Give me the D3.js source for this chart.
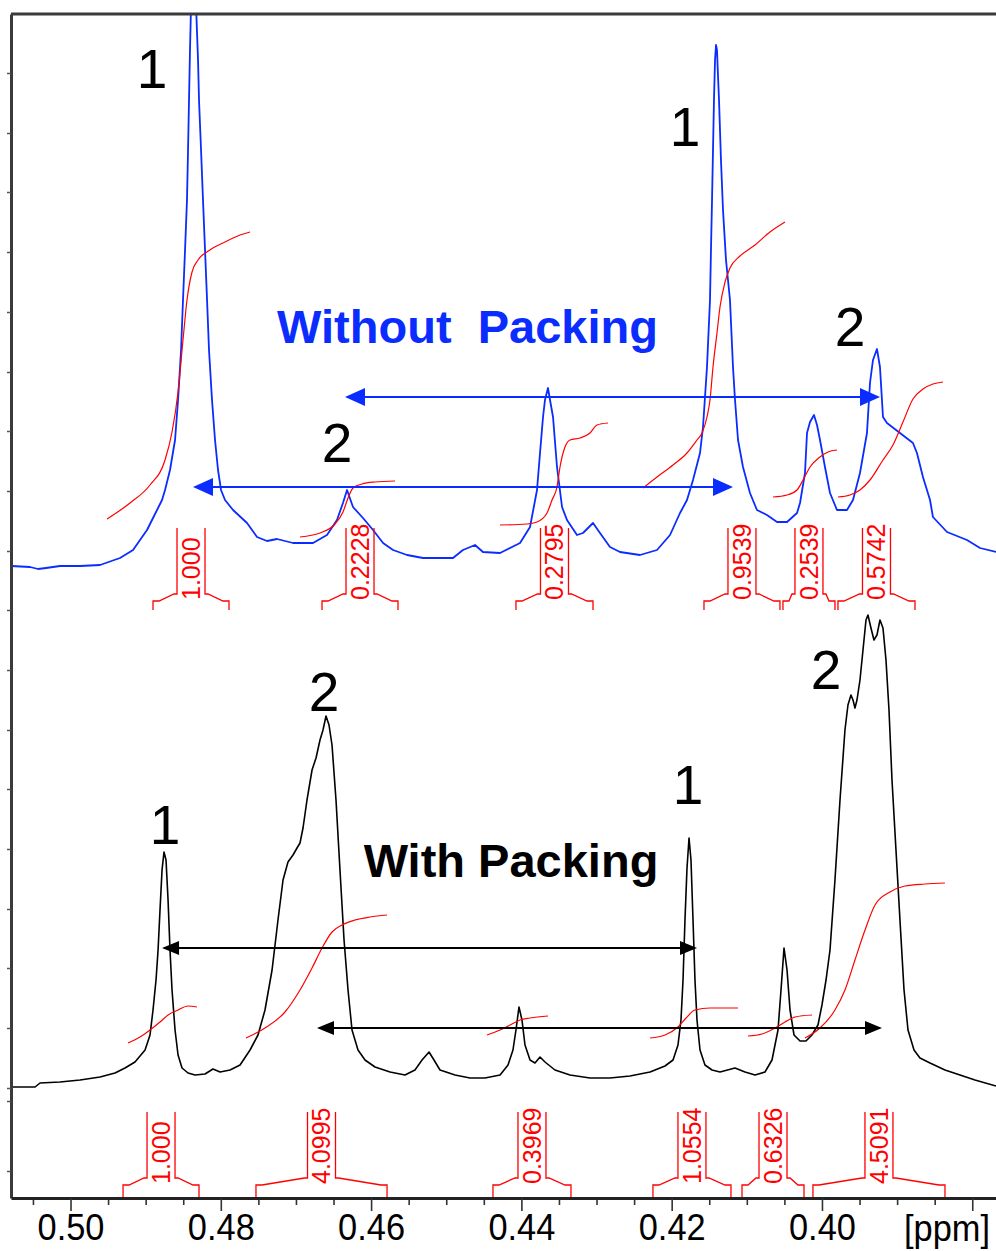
<!DOCTYPE html>
<html>
<head>
<meta charset="utf-8">
<script src="https://cdn.jsdelivr.net/npm/d3@7"></script>
<style>
  html, body { margin: 0; padding: 0; background: #ffffff; }
  svg { display: block; }
</style>
</head>
<body>
<svg id="chart" width="996" height="1251"></svg>
<script>
// ---- 1H NMR traces: [chemical shift (ppm), intensity (a.u.)] ----
const withoutPackingSpectrum = [
  [0.50792,63.2],[0.50539,63.1],[0.50432,62.9],[0.50326,63.0],[0.50140,63.2],[0.49873,63.2],[0.49607,63.3],
  [0.49341,64.0],[0.49168,64.8],[0.48982,66.8],[0.48902,68.0],[0.48782,69.8],[0.48742,70.8],[0.48676,72.8],
  [0.48609,75.8],[0.48569,79.8],[0.48529,84.8],[0.48503,89.8],[0.48476,94.8],[0.48450,99.8],[0.48436,104.8],
  [0.48423,109.8],[0.48410,114.8],[0.48396,119.3],[0.48370,122.8],[0.48330,119.3],[0.48303,113.8],[0.48290,109.8],
  [0.48263,104.8],[0.48237,99.8],[0.48210,94.8],[0.48183,89.8],[0.48157,84.8],[0.48117,79.8],[0.48077,75.8],
  [0.48037,72.8],[0.47997,70.8],[0.47944,69.8],[0.47837,68.8],[0.47651,67.5],[0.47518,66.1],[0.47385,65.7],
  [0.47252,65.9],[0.47039,65.5],[0.46773,65.5],[0.46587,66.3],[0.46454,67.8],[0.46374,69.5],[0.46320,70.8],
  [0.46241,69.1],[0.46108,68.0],[0.45974,66.8],[0.45841,65.5],[0.45708,64.8],[0.45522,64.3],[0.45309,64.0],
  [0.44910,64.0],[0.44777,64.8],[0.44617,65.3],[0.44511,64.6],[0.44284,64.5],[0.44018,65.5],[0.43885,67.1],
  [0.43792,70.8],[0.43752,74.5],[0.43712,78.1],[0.43686,79.8],[0.43646,81.0],[0.43619,79.8],[0.43579,78.1],
  [0.43526,73.1],[0.43459,69.1],[0.43393,67.8],[0.43260,66.3],[0.43180,66.5],[0.43047,67.5],[0.42954,66.5],
  [0.42821,65.1],[0.42688,64.6],[0.42422,64.3],[0.42195,64.8],[0.42022,66.3],[0.41889,68.5],[0.41796,69.8],
  [0.41716,71.8],[0.41623,74.5],[0.41583,77.1],[0.41530,83.1],[0.41490,89.8],[0.41477,94.8],[0.41463,99.8],
  [0.41450,104.8],[0.41437,109.8],[0.41423,113.8],[0.41410,115.3],[0.41397,114.8],[0.41384,112.3],[0.41370,109.8],
  [0.41344,103.8],[0.41317,98.8],[0.41277,93.8],[0.41224,89.8],[0.41184,83.1],[0.41157,79.8],[0.41117,75.8],
  [0.41051,73.1],[0.40958,70.5],[0.40865,68.8],[0.40732,68.3],[0.40598,67.6],[0.40465,67.6],[0.40332,68.5],
  [0.40292,69.5],[0.40226,72.5],[0.40199,76.5],[0.40159,77.6],[0.40106,78.3],[0.40066,77.3],[0.40026,75.8],
  [0.39960,73.1],[0.39893,70.5],[0.39800,68.8],[0.39667,68.8],[0.39587,69.8],[0.39494,72.5],[0.39401,76.5],
  [0.39361,81.5],[0.39321,83.8],[0.39268,84.9],[0.39228,83.1],[0.39188,78.1],[0.39135,77.5],[0.38962,76.5],
  [0.38789,75.5],[0.38736,74.5],[0.38656,72.1],[0.38562,69.8],[0.38523,68.1],[0.38336,66.6],[0.38070,65.8],
  [0.37897,65.0],[0.37684,64.6]
];

const withPackingSpectrum = [
  [0.50792,11.1],[0.50472,11.1],[0.50406,11.5],[0.50140,11.6],[0.49873,11.8],[0.49607,12.1],[0.49408,12.5],
  [0.49275,13.0],[0.49142,13.6],[0.49008,14.8],[0.48942,16.3],[0.48902,18.8],[0.48862,21.8],[0.48835,24.8],
  [0.48809,28.8],[0.48782,32.8],[0.48756,34.6],[0.48729,33.8],[0.48702,29.8],[0.48676,24.8],[0.48649,20.8],
  [0.48609,16.8],[0.48569,14.3],[0.48516,13.0],[0.48436,12.5],[0.48343,12.3],[0.48210,12.4],[0.48104,12.9],
  [0.48010,12.6],[0.47877,12.8],[0.47744,13.3],[0.47611,14.8],[0.47505,16.3],[0.47412,18.8],[0.47318,22.8],
  [0.47239,27.8],[0.47172,31.8],[0.47106,33.6],[0.47039,34.3],[0.46986,35.0],[0.46946,35.5],[0.46906,37.0],
  [0.46853,39.8],[0.46786,42.8],[0.46733,44.0],[0.46680,45.8],[0.46640,46.8],[0.46600,48.2],[0.46560,47.3],
  [0.46520,45.3],[0.46467,39.8],[0.46414,32.8],[0.46360,25.8],[0.46307,20.8],[0.46254,16.8],[0.46174,14.8],
  [0.46081,13.8],[0.45948,13.1],[0.45748,12.6],[0.45549,12.3],[0.45416,12.8],[0.45322,13.8],[0.45229,14.6],
  [0.45163,13.8],[0.45083,12.8],[0.44883,12.3],[0.44684,12.0],[0.44484,12.0],[0.44284,12.3],[0.44178,13.3],
  [0.44112,14.8],[0.44072,16.8],[0.44032,19.1],[0.43992,17.8],[0.43952,15.3],[0.43885,13.8],[0.43819,13.5],
  [0.43752,14.1],[0.43686,13.6],[0.43553,12.8],[0.43353,12.3],[0.43087,12.0],[0.42821,12.0],[0.42555,12.2],
  [0.42288,12.6],[0.42089,13.2],[0.41982,13.8],[0.41916,15.3],[0.41876,17.8],[0.41849,21.8],[0.41823,27.8],
  [0.41796,33.0],[0.41769,36.0],[0.41743,33.8],[0.41716,27.8],[0.41690,21.8],[0.41663,17.8],[0.41623,14.8],
  [0.41557,13.3],[0.41463,12.8],[0.41357,12.6],[0.41157,13.0],[0.41024,12.6],[0.40891,12.3],[0.40758,12.6],
  [0.40665,13.8],[0.40585,16.8],[0.40545,20.8],[0.40505,25.0],[0.40465,22.8],[0.40425,18.8],[0.40372,16.3],
  [0.40292,15.7],[0.40213,15.7],[0.40133,16.3],[0.40053,17.3],[0.40000,19.3],[0.39946,21.8],[0.39893,24.8],
  [0.39827,31.8],[0.39760,39.8],[0.39694,46.8],[0.39654,49.3],[0.39614,50.3],[0.39587,49.8],[0.39561,49.0],
  [0.39534,49.8],[0.39494,51.8],[0.39454,54.8],[0.39414,57.8],[0.39388,58.3],[0.39348,57.0],[0.39308,55.8],
  [0.39268,56.3],[0.39228,57.8],[0.39188,57.0],[0.39148,53.8],[0.39108,48.8],[0.39068,41.8],[0.39015,34.8],
  [0.38962,27.8],[0.38908,20.8],[0.38855,16.8],[0.38775,14.8],[0.38696,14.0],[0.38562,13.5],[0.38363,12.8],
  [0.38163,12.3],[0.37964,11.8],[0.37684,11.2]
];

// ---- running integral traces (red) ----
const withoutPackingIntegralCurves = [
  [[0.49514,67.9],[0.49208,69.5],[0.48942,71.3],[0.48742,73.8],[0.48649,76.6],[0.48569,80.6],[0.48503,85.8],
   [0.48450,89.8],[0.48383,92.6],[0.48303,93.8],[0.48144,94.8],[0.47944,95.6],[0.47744,96.3],[0.47611,96.6]],
  [[0.46946,66.1],[0.46680,66.5],[0.46480,67.4],[0.46374,68.6],[0.46307,70.0],[0.46241,71.0],[0.46121,71.4],
   [0.45948,71.6],[0.45682,71.7]],
  [[0.44284,67.3],[0.43925,67.4],[0.43792,67.6],[0.43659,68.5],[0.43592,69.8],[0.43526,71.1],[0.43486,73.1],
   [0.43420,75.1],[0.43353,75.8],[0.43220,76.0],[0.43087,76.5],[0.42994,77.3],[0.42847,77.5]],
  [[0.42381,71.0],[0.42195,72.1],[0.41982,73.3],[0.41796,74.5],[0.41663,75.8],[0.41596,76.5],[0.41530,78.1],
   [0.41490,79.8],[0.41450,83.1],[0.41397,86.5],[0.41357,89.1],[0.41290,91.6],[0.41224,93.0],[0.41091,94.2],
   [0.40891,95.3],[0.40692,96.6],[0.40492,97.6]],
  [[0.40651,70.1],[0.40465,70.3],[0.40332,70.8],[0.40252,71.8],[0.40159,73.1],[0.40026,74.1],[0.39920,74.6],
   [0.39800,74.8]],
  [[0.39787,70.1],[0.39627,70.3],[0.39494,70.8],[0.39361,71.8],[0.39188,73.8],[0.39055,75.3],[0.38922,77.6],
   [0.38789,79.9],[0.38656,80.9],[0.38523,81.4],[0.38389,81.6]]
];

const withPackingIntegralCurves = [
  [[0.49235,15.5],[0.49075,16.1],[0.48942,16.8],[0.48809,17.6],[0.48702,18.3],[0.48569,18.8],[0.48436,19.2],
   [0.48317,19.1]],
  [[0.47664,16.0],[0.47412,17.0],[0.47146,18.6],[0.46946,20.8],[0.46786,23.0],[0.46653,25.0],[0.46520,26.6],
   [0.46387,27.3],[0.46214,27.8],[0.46014,28.1],[0.45788,28.3]],
  [[0.44458,16.3],[0.44284,16.8],[0.44151,17.3],[0.44018,17.8],[0.43885,18.0],[0.43646,18.2]],
  [[0.42288,16.0],[0.42089,16.3],[0.41916,17.1],[0.41809,18.0],[0.41690,18.8],[0.41490,19.0],[0.41117,19.0]],
  [[0.40984,16.2],[0.40798,16.4],[0.40625,17.0],[0.40492,17.6],[0.40359,18.1],[0.40133,18.3]],
  [[0.40226,16.0],[0.40026,17.0],[0.39827,18.8],[0.39694,20.8],[0.39561,23.8],[0.39427,26.8],[0.39294,29.3],
   [0.39095,30.6],[0.38895,31.2],[0.38629,31.4],[0.38363,31.5]]
];

// ---- integration regions: [from ppm, to ppm, relative integral] ----
const withoutPackingIntegrals = [
  [0.48902, 0.47891, "1.000"],
  [0.46653, 0.45642, "0.2228"],
  [0.44072, 0.43047, "0.2795"],
  [0.41570, 0.40559, "0.9539"],
  [0.40519, 0.39827, "0.2539"],
  [0.39787, 0.38762, "0.5742"]
];
const withPackingIntegrals = [
  [0.49301, 0.48290, "1.000"],
  [0.47532, 0.45788, "4.0995"],
  [0.44378, 0.43340, "0.3969"],
  [0.42249, 0.41211, "1.0554"],
  [0.41064, 0.40239, "0.6326"],
  [0.40120, 0.38363, "4.5091"]
];

// ---- peak assignments: [ppm, intensity, label] ----
const withoutPackingPeakLabels = [
  [0.48915, 111.0, "1"], [0.41823, 105.2, "1"], [0.46454, 73.6, "2"], [0.39627, 85.2, "2"]
];
const withPackingPeakLabels = [
  [0.48742, 35.4, "1"], [0.46627, 48.7, "2"], [0.41783, 39.4, "1"], [0.39946, 50.9, "2"]
];

// ---- double arrows linking the signals: [from ppm, to ppm, intensity] ----
const withoutPackingArrows = [[0.46347, 0.39228, 80.1], [0.48370, 0.41184, 71.1]];
const withPackingArrows = [[0.48782, 0.41663, 25.0], [0.46720, 0.39201, 17.0]];

// ---- titles: [ppm, intensity, text, colour] ----
const spectrumTitles = [
  [0.44717, 85.5, "Without\u00A0\u00A0Packing", "#0a2cff"],
  [0.44138, 32.1, "With Packing", "#000000"]
];

// ---- axes ----
const xDomain = [0.50792, 0.37684];
const xMajorTicks = [0.50, 0.48, 0.46, 0.44, 0.42, 0.40, 0.38];
const xMinorTicks = [0.505, 0.495, 0.49, 0.485, 0.475, 0.47, 0.465, 0.455, 0.45, 0.445,
                     0.435, 0.43, 0.425, 0.415, 0.41, 0.405, 0.395, 0.39, 0.385];
const yDomain = [0, 118.4];
const yTicks = [112.5, 106.5, 100.6, 94.6, 88.6, 82.6, 76.7, 70.7, 64.7, 58.8, 52.8, 46.8,
                40.9, 34.9, 28.9, 23.0, 17.0, 11.0, 9.7, 2.7];

// ---------------------------------------------------------------
const plot = { left: 11, right: 996, top: 14, bottom: 1198 };
const BLUE = "#0a2cff", RED = "#ff0000";
const FONT = "Arial, 'Liberation Sans', Helvetica, sans-serif";

const svg = d3.select("#chart");
const x = d3.scaleLinear().domain(xDomain).range([plot.left, plot.right]);
const y = d3.scaleLinear().domain(yDomain).range([plot.bottom, plot.top]);

svg.append("defs").append("clipPath").attr("id", "plot-clip")
  .append("rect")
  .attr("x", plot.left).attr("y", plot.top)
  .attr("width", plot.right - plot.left).attr("height", plot.bottom - plot.top);

const area = svg.append("g").attr("clip-path", "url(#plot-clip)");
const line = d3.line().x(d => x(d[0])).y(d => y(d[1]));
const smoothLine = d3.line().x(d => x(d[0])).y(d => y(d[1])).curve(d3.curveMonotoneX);

// spectra
area.append("path").datum(withoutPackingSpectrum)
  .attr("d", line).attr("fill", "none").attr("stroke", BLUE)
  .attr("stroke-width", 1.8).attr("stroke-linejoin", "round");
area.append("path").datum(withPackingSpectrum)
  .attr("d", line).attr("fill", "none").attr("stroke", "#000")
  .attr("stroke-width", 1.6).attr("stroke-linejoin", "round");

// integral traces
[...withoutPackingIntegralCurves, ...withPackingIntegralCurves].forEach(c => {
  area.append("path").datum(c)
    .attr("d", smoothLine).attr("fill", "none")
    .attr("stroke", RED).attr("stroke-width", 1.2);
});

// integration brackets with the rotated integral value
function drawBrackets(list, stemBottom, footBottom) {
  const g = svg.append("g").attr("fill", "none").attr("stroke", RED).attr("stroke-width", 1.3);
  const half = 14, stemLen = 66, drop = 7;
  list.forEach(([a, b, label]) => {
    const xl = x(a), xr = x(b), cx = (xl + xr) / 2;
    const yb = stemBottom, ys = yb + drop;
    const p = d3.path();
    p.moveTo(xl, footBottom); p.lineTo(xl, ys); p.lineTo(xl + 6, ys);
    p.lineTo(cx - half - 3, yb); p.lineTo(cx - half, yb); p.lineTo(cx - half, yb - stemLen);
    p.moveTo(xr, footBottom); p.lineTo(xr, ys); p.lineTo(xr - 6, ys);
    p.lineTo(cx + half + 3, yb); p.lineTo(cx + half, yb); p.lineTo(cx + half, yb - stemLen);
    g.append("path").attr("d", p.toString());
    svg.append("text")
      .attr("transform", `translate(${cx},${yb + 6}) rotate(-90)`)
      .attr("dy", "0.36em")
      .attr("font-family", FONT).attr("font-size", 25)
      .attr("fill", RED)
      .text(label);
  });
}
drawBrackets(withoutPackingIntegrals, 594, 610);
drawBrackets(withPackingIntegrals, 1178, plot.bottom);

// double-headed arrows
function drawArrows(list, color, headLen, headHalf, width) {
  const g = svg.append("g");
  list.forEach(([a, b, v]) => {
    const x1 = x(a), x2 = x(b), yy = y(v);
    g.append("line").attr("x1", x1 + 2).attr("x2", x2 - 2).attr("y1", yy).attr("y2", yy)
      .attr("stroke", color).attr("stroke-width", width);
    g.append("path")
      .attr("d", `M${x1},${yy}L${x1 + headLen},${yy - headHalf}L${x1 + headLen},${yy + headHalf}Z`)
      .attr("fill", color);
    g.append("path")
      .attr("d", `M${x2},${yy}L${x2 - headLen},${yy - headHalf}L${x2 - headLen},${yy + headHalf}Z`)
      .attr("fill", color);
  });
}
drawArrows(withoutPackingArrows, BLUE, 20, 9, 2);
drawArrows(withPackingArrows, "#000", 17, 7, 1.8);

// peak labels
[...withoutPackingPeakLabels, ...withPackingPeakLabels].forEach(([p, v, t]) => {
  svg.append("text").attr("x", x(p)).attr("y", y(v))
    .attr("text-anchor", "middle")
    .attr("font-family", FONT).attr("font-size", 55)
    .attr("fill", "#000").text(t);
});

// titles
spectrumTitles.forEach(([p, v, t, c]) => {
  svg.append("text").attr("x", x(p)).attr("y", y(v))
    .attr("text-anchor", "middle")
    .attr("font-family", FONT).attr("font-size", 47).attr("font-weight", "bold")
    .attr("fill", c).text(t);
});

// frame: top edge
svg.append("line")
  .attr("x1", plot.left).attr("x2", plot.right)
  .attr("y1", plot.top).attr("y2", plot.top)
  .attr("stroke", "#3a3a3a").attr("stroke-width", 3);

// left axis (unlabelled intensity ticks)
const yAxis = svg.append("g").attr("transform", `translate(${plot.left},0)`)
  .call(d3.axisLeft(y).tickValues(yTicks).tickSize(4).tickSizeOuter(0).tickFormat(""));
yAxis.select(".domain").attr("stroke", "#3a3a3a").attr("stroke-width", 3);
yAxis.selectAll(".tick line").attr("stroke", "#555").attr("stroke-width", 1.5);

// bottom axis (ppm)
const xMinor = svg.append("g").attr("transform", `translate(0,${plot.bottom})`)
  .call(d3.axisBottom(x).tickValues(xMinorTicks).tickSize(7).tickFormat(""));
xMinor.select(".domain").remove();
xMinor.selectAll(".tick line").attr("stroke", "#333").attr("stroke-width", 1.6);

const xAxis = svg.append("g").attr("transform", `translate(0,${plot.bottom})`)
  .call(d3.axisBottom(x).tickValues(xMajorTicks).tickSize(13).tickSizeOuter(0).tickPadding(3)
    .tickFormat(d => d < 0.39 ? "" : d3.format(".2f")(d)));
xAxis.select(".domain").attr("stroke", "#222").attr("stroke-width", 3);
xAxis.selectAll(".tick line").attr("stroke", "#333").attr("stroke-width", 1.6);
xAxis.selectAll(".tick text")
  .attr("font-family", FONT).attr("font-size", 37).attr("fill", "#000")
  .attr("transform", "scale(0.93,1)");

svg.append("text")
  .attr("x", 990).attr("y", 1241)
  .attr("text-anchor", "end")
  .attr("font-family", FONT).attr("font-size", 37)
  .attr("fill", "#000")
  .attr("transform", "translate(69.3,0) scale(0.93,1)")
  .text("[ppm]");
</script>
</body>
</html>
